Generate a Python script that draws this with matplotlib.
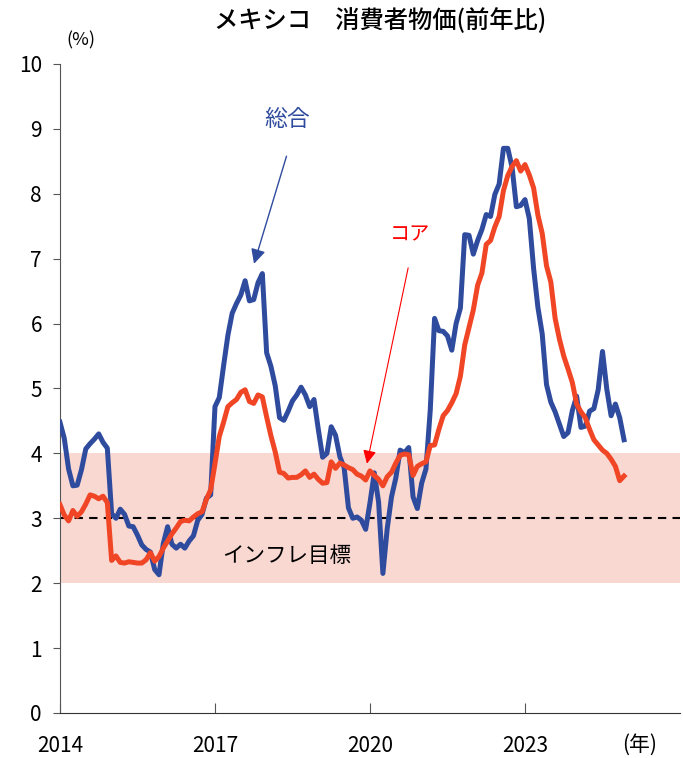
import numpy as np
import matplotlib.pyplot as plt

plt.rcParams['font.family'] = ['Noto Sans CJK JP', 'DejaVu Sans']

# monthly values, Jan 2014 - Dec 2024 (%)
headline = [4.48, 4.23, 3.76, 3.50, 3.51, 3.75, 4.07, 4.15, 4.22, 4.30, 4.17, 4.08,
            3.07, 3.00, 3.14, 3.06, 2.88, 2.87, 2.74, 2.59, 2.52, 2.48, 2.21, 2.13,
            2.61, 2.87, 2.60, 2.54, 2.60, 2.54, 2.65, 2.73, 2.97, 3.06, 3.31, 3.36,
            4.72, 4.86, 5.35, 5.82, 6.16, 6.31, 6.44, 6.66, 6.35, 6.37, 6.63, 6.77,
            5.55, 5.34, 5.04, 4.55, 4.51, 4.65, 4.81, 4.90, 5.02, 4.90, 4.72, 4.83,
            4.37, 3.94, 4.00, 4.41, 4.28, 3.95, 3.78, 3.16, 3.00, 3.02, 2.97, 2.83,
            3.24, 3.70, 3.25, 2.15, 2.84, 3.33, 3.62, 4.05, 4.01, 4.09, 3.33, 3.15,
            3.54, 3.76, 4.67, 6.08, 5.89, 5.88, 5.81, 5.59, 6.00, 6.24, 7.37, 7.36,
            7.07, 7.28, 7.45, 7.68, 7.65, 7.99, 8.15, 8.70, 8.70, 8.41, 7.80, 7.82,
            7.91, 7.62, 6.85, 6.25, 5.84, 5.06, 4.79, 4.64, 4.45, 4.26, 4.32, 4.66,
            4.88, 4.40, 4.42, 4.65, 4.69, 4.98, 5.57, 4.99, 4.58, 4.76, 4.55, 4.21]

core = [3.21, 3.05, 2.96, 3.12, 3.03, 3.10, 3.22, 3.36, 3.34, 3.30, 3.34, 3.24,
        2.35, 2.42, 2.32, 2.31, 2.33, 2.32, 2.31, 2.31, 2.36, 2.47, 2.34, 2.41,
        2.54, 2.65, 2.76, 2.85, 2.95, 2.97, 2.96, 3.02, 3.07, 3.10, 3.29, 3.44,
        3.84, 4.26, 4.48, 4.72, 4.78, 4.83, 4.94, 4.98, 4.80, 4.77, 4.90, 4.87,
        4.56, 4.27, 4.02, 3.71, 3.69, 3.62, 3.63, 3.63, 3.67, 3.73, 3.63, 3.68,
        3.60, 3.54, 3.55, 3.87, 3.77, 3.85, 3.82, 3.78, 3.75, 3.68, 3.65, 3.59,
        3.73, 3.66, 3.60, 3.50, 3.64, 3.71, 3.85, 3.97, 3.99, 3.98, 3.66, 3.80,
        3.84, 3.87, 4.12, 4.13, 4.37, 4.58, 4.66, 4.78, 4.92, 5.19, 5.67, 5.94,
        6.21, 6.59, 6.78, 7.22, 7.28, 7.49, 7.65, 8.05, 8.28, 8.42, 8.51, 8.35,
        8.45, 8.29, 8.09, 7.67, 7.39, 6.89, 6.64, 6.08, 5.76, 5.50, 5.30, 5.09,
        4.76, 4.64, 4.55, 4.37, 4.21, 4.13, 4.05, 4.00, 3.91, 3.80, 3.58, 3.65]

start_year = 2014
xticks = [2014, 2017, 2020, 2023]
target_lo, target_hi, target_mid = 2, 4, 3

t = start_year + np.arange(len(headline)) / 12

BLUE = '#2F4B9E'
RED = '#F04626'

fig = plt.figure(figsize=(6.83, 7.58), dpi=100)
ax = fig.add_axes([0.0878, 0.0594, 0.9078, 0.8562])

ax.axhspan(target_lo, target_hi, color='#FAD8D2', lw=0, zorder=0)
ax.axhline(target_mid, color='black', ls=(0, (4, 3)), lw=1.5, zorder=1)

ax.plot(t, headline, color=BLUE, lw=3.6, solid_joinstyle='round', zorder=3)
ax.plot(t, core, color=RED, lw=3.6, solid_joinstyle='round', zorder=3)

ax.set_xlim(2014, 2026)
ax.set_ylim(0, 10)
ax.set_yticks(range(0, 11))
ax.set_xticks(xticks)
ax.set_xticklabels([str(x) for x in xticks])

ax.spines['top'].set_visible(False)
ax.spines['right'].set_visible(False)
ax.spines['left'].set_color('#555555')
ax.spines['bottom'].set_color('#333333')
ax.tick_params(axis='y', direction='out', length=5, labelsize=15, color='#555555', pad=8)
ax.tick_params(axis='x', direction='in', length=7, labelsize=15, color='#555555', pad=16)

ax.annotate('', xy=(2017.74, 6.88), xytext=(2018.40, 8.62),
            arrowprops=dict(arrowstyle='-|>', color=BLUE, lw=1.0, mutation_scale=22))
ax.text(2018.40, 9.14, '総合', color=BLUE, fontsize=16.5, ha='center', va='center')

ax.annotate('', xy=(2019.93, 3.80), xytext=(2020.75, 6.90),
            arrowprops=dict(arrowstyle='-|>', color='red', lw=0.8, mutation_scale=20))
ax.text(2020.77, 7.37, 'コア', color='red', fontsize=14.5, ha='center', va='center')

ax.text(2018.38, 2.42, 'インフレ目標', fontsize=15.5, ha='center', va='center')

fig.text(0.556, 0.972, 'メキシコ　消費者物価(前年比)', fontsize=17.5, fontweight='medium',
         ha='center', va='center')
fig.text(0.118, 0.947, '(%)', fontsize=13, ha='center', va='center')
fig.text(0.937, 0.017, '(年)', fontsize=15, ha='center', va='center')

fig.savefig('out.png', dpi=100)
